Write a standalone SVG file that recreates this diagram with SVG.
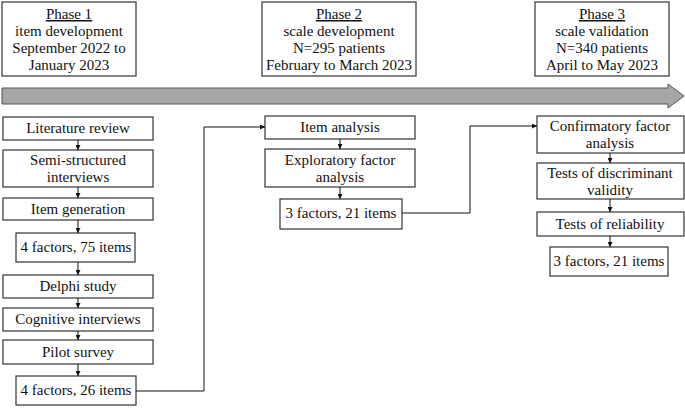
<svg xmlns="http://www.w3.org/2000/svg" width="685" height="409" viewBox="0 0 685 409" font-family="'Liberation Serif', 'DejaVu Serif', serif">
<style>
rect{fill:#fff;stroke:#333;stroke-width:1.2}
text{font-family:'Liberation Serif','DejaVu Serif',serif;font-size:15px;fill:#111;text-anchor:middle}
.c{fill:none;stroke:#111;stroke-width:1;marker-end:url(#a)}
</style>
<defs><marker id="a" viewBox="0 0 6 6" refX="6" refY="3" markerWidth="5" markerHeight="5" orient="auto"><path d="M0,0L6,3L0,6z" fill="#111"/></marker></defs>
<rect width="685" height="409" style="fill:#fff;stroke:none"/>
<g id="phase1"><rect x="2" y="2" width="134" height="74"/><text x="69" y="19" text-decoration="underline">Phase 1</text><text x="69" y="36">item development</text><text x="69" y="53">September  2022 to</text><text x="69" y="70">January 2023</text></g>
<g id="phase2"><rect x="262" y="2" width="154" height="74"/><text x="339" y="19" text-decoration="underline">Phase 2</text><text x="339" y="36">scale development</text><text x="339" y="53">N=295 patients</text><text x="339" y="70">February to March 2023</text></g>
<g id="phase3"><rect x="535" y="2" width="134" height="74"/><text x="602" y="19" text-decoration="underline">Phase 3</text><text x="602" y="36">scale validation</text><text x="602" y="53">N=340 patients</text><text x="602" y="70">April to May 2023</text></g>
<g id="timeline"><path d="M2,88H668V84L684,96L668,108V104H2z" fill="#a6a6a6" stroke="#555" stroke-width="1"/></g>
<g id="n1"><rect x="3" y="117" width="150" height="23"/><text x="78" y="133">Literature review</text></g>
<g id="n2"><rect x="3" y="150" width="150" height="37"/><text x="78" y="165">Semi-structured</text><text x="78" y="182">interviews</text></g>
<g id="n3"><rect x="3" y="198" width="150" height="22"/><text x="78" y="214">Item generation</text></g>
<g id="n4"><rect x="16" y="233" width="119" height="29"/><text x="76" y="252">4 factors, 75 items</text></g>
<g id="n5"><rect x="3" y="275" width="150" height="23"/><text x="78" y="291">Delphi study</text></g>
<g id="n6"><rect x="3" y="308" width="150" height="23"/><text x="78" y="324">Cognitive interviews</text></g>
<g id="n7"><rect x="3" y="340" width="150" height="24"/><text x="78" y="357">Pilot survey</text></g>
<g id="n8"><rect x="16" y="376" width="120" height="29"/><text x="76" y="395">4 factors, 26 items</text></g>
<g id="m1"><rect x="265" y="116" width="150" height="23"/><text x="340" y="132">Item analysis</text></g>
<g id="m2"><rect x="265" y="149" width="150" height="38"/><text x="340" y="165">Exploratory factor</text><text x="340" y="182">analysis</text></g>
<g id="m3"><rect x="280" y="199" width="122" height="30"/><text x="341" y="218">3 factors, 21 items</text></g>
<g id="r1"><rect x="537" y="116" width="147" height="37"/><text x="610" y="131">Confirmatory factor</text><text x="610" y="148">analysis</text></g>
<g id="r2"><rect x="537" y="163" width="147" height="36"/><text x="610" y="178">Tests of discriminant</text><text x="610" y="195">validity</text></g>
<g id="r3"><rect x="537" y="212" width="147" height="24"/><text x="610" y="229">Tests of reliability</text></g>
<g id="r4"><rect x="550" y="247" width="118" height="29"/><text x="609" y="266">3 factors, 21 items</text></g>
<g id="connectors">
<path class="c" d="M78,140V150"/><path class="c" d="M78,187V198"/><path class="c" d="M78,220V233"/><path class="c" d="M78,262V275"/><path class="c" d="M78,298V308"/><path class="c" d="M78,331V340"/><path class="c" d="M78,364V376"/>
<path class="c" d="M136,391H204V127H265"/>
<path class="c" d="M340,139V149"/><path class="c" d="M340,187V199"/>
<path class="c" d="M402,213H470V126H537"/>
<path class="c" d="M610,153V163"/><path class="c" d="M610,199V212"/><path class="c" d="M610,236V247"/>
</g>
</svg>
